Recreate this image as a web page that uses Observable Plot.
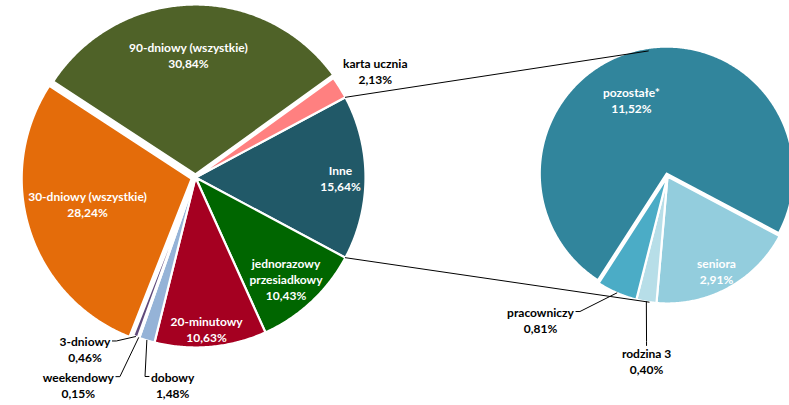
<!DOCTYPE html>
<html><head><meta charset="utf-8">
<script src="https://cdn.jsdelivr.net/npm/d3@7"></script>
<script src="https://cdn.jsdelivr.net/npm/@observablehq/plot@0.6"></script>
<style>body{margin:0;background:#fff}</style>
</head><body><div id="chart"></div>
<script>
// ---- data (main pie, clockwise starting with "Inne") ----
const mainCategories = ["Inne", "jednorazowy przesiadkowy", "20-minutowy", "dobowy", "weekendowy", "3-dniowy", "30-dniowy (wszystkie)", "90-dniowy (wszystkie)", "karta ucznia"];
const mainValues = [15.64, 10.43, 10.63, 1.48, 0.15, 0.46, 28.24, 30.84, 2.13];
const mainColors = ["#215968", "#006600", "#A50021", "#95B3D7", "#8E44C8", "#604A7B", "#E46C0A", "#4F6228", "#FF8080"];
const mainLabelNames = ["Inne", "jednorazowy\nprzesiadkowy", "20-minutowy", "dobowy", "weekendowy", "3-dniowy", "30-dniowy (wszystkie)", "90-dniowy (wszystkie)", "karta ucznia"];

// ---- data (secondary pie = breakdown of "Inne") ----
const subCategories = ["seniora", "rodzina 3", "pracowniczy", "pozostałe*"];
const subValues = [2.91, 0.40, 0.81, 11.52];
const subColors = ["#93CDDD", "#B7DEE8", "#4BACC6", "#31859C"];

// ---- layout ----
const W = 789, H = 405;
const mainPie = {cx: 195, cy: 177, r: 170};
const subPie = {cx: 667, cy: 176, r: 127, start: 118};
const explodeMain = {"90-dniowy (wszystkie)": 3, "30-dniowy (wszystkie)": 4};
const explodeSub = {"pozostałe*": 3};
// label placement: absolute angle (deg, clockwise from 12 o'clock), radius factor, colour
const mainLabelPos = {
  "Inne": [90, 0.853, "white"],
  "jednorazowy przesiadkowy": [138.3, 0.80, "white"],
  "20-minutowy": [175.8, 0.89, "white"],
  "dobowy": [186.3, 1.225, "black"],
  "weekendowy": [209.5, 1.40, "black"],
  "3-dniowy": [212.8, 1.20, "black"],
  "30-dniowy (wszystkie)": [256.2, 0.654, "white"],
  "90-dniowy (wszystkie)": [356.7, 0.725, "white"],
  "karta ucznia": [59.3, 1.23, "black"]
};
const subLabelPos = {
  "seniora": [152.5, 0.835, "white"],
  "rodzina 3": [186.5, 1.458, "black"],
  "pracowniczy": [221.6, 1.506, "black"],
  "pozostałe*": [334.9, 0.67, "white"]
};
const leaderSide = {"3-dniowy": "right", "weekendowy": "right", "dobowy": "left", "pracowniczy": "right", "rodzina 3": "top"};
const fontSize = 12, lineH = 16, fontFamily = "Lato";

const deg = Math.PI / 180;
const pt = (cx, cy, r, a) => [cx + r * Math.sin(a * deg), cy - r * Math.cos(a * deg)];
const fmt = v => v.toFixed(2).replace(".", ",") + "%";

function angles(values, start) {
  const total = d3.sum(values);
  let a = start;
  return values.map(v => { const s = a; a += v / total * 360; return [s, a]; });
}
function slicePoints(pie, a0, a1, explode) {
  const m = (a0 + a1) / 2;
  const [ox, oy] = pt(0, 0, explode || 0, m);
  const cx = pie.cx + ox, cy = pie.cy + oy;
  const pts = [[cx, cy]];
  const n = Math.max(2, Math.ceil((a1 - a0) / 0.5));
  for (let i = 0; i <= n; i++) pts.push(pt(cx, cy, pie.r, a0 + (a1 - a0) * i / n));
  pts.push([cx, cy]);
  return pts.map(([x, y]) => ({x, y}));
}

const ctx = document.createElement("canvas").getContext("2d");
ctx.font = `bold ${fontSize}px ${fontFamily}`;
const textW = s => d3.max(s.split("\n"), l => ctx.measureText(l).width);

const totalMain = d3.sum(mainValues);
const innePct = mainValues[0] / totalMain * 360;
const mainAngles = angles(mainValues, 90 - innePct / 2);
const subAngles = angles(subValues, subPie.start);

const marks = [];
const labels = [];
const leaders = [];

function addPie(pie, cats, vals, cols, angs, explode, labelPos, labelNames) {
  cats.forEach((c, i) => {
    const [a0, a1] = angs[i];
    marks.push(Plot.line(slicePoints(pie, a0, a1, explode[c]), {x: "x", y: "y", fill: cols[i], stroke: "white", strokeWidth: 2.2, curve: "linear"}));
    const [la, lr, lc] = labelPos[c];
    const [lx, ly] = pt(pie.cx, pie.cy, pie.r * lr, la);
    const text = labelNames[i] + "\n" + fmt(vals[i]);
    const nLines = text.split("\n").length;
    labels.push({x: lx, y: ly, text, color: lc});
    const side = leaderSide[c];
    if (side) {
      const w = textW(text);
      const m = (a0 + a1) / 2;
      const edge = pt(pie.cx, pie.cy, pie.r, m);
      const firstY = ly - (nLines - 1) * lineH / 2;
      let anchor, elbow;
      if (side === "right") { anchor = [lx + w / 2 + 2, firstY]; elbow = [anchor[0] + 4, firstY]; }
      else if (side === "left") { anchor = [lx - w / 2 - 2, firstY]; elbow = [anchor[0] - 4, firstY]; }
      else { anchor = [lx, firstY - 7]; elbow = [lx, firstY - 11]; }
      leaders.push([anchor, elbow, edge].map(([x, y]) => ({x, y, key: c})));
    }
  });
}
addPie(mainPie, mainCategories, mainValues, mainColors, mainAngles, explodeMain, mainLabelPos, mainLabelNames);
addPie(subPie, subCategories, subValues, subColors, subAngles, explodeSub, subLabelPos, subCategories);

// connector lines: from ends of the "Inne" arc, tangent to the secondary pie
function tangent(P, C, r, sign) {
  const dx = C[0] - P[0], dy = C[1] - P[1];
  const d = Math.hypot(dx, dy);
  const base = Math.atan2(dy, dx);
  const t = Math.asin(r / d);
  const ang = base + sign * t;
  const L = Math.sqrt(d * d - r * r);
  return [P[0] + L * Math.cos(ang), P[1] + L * Math.sin(ang)];
}
const [i0, i1] = mainAngles[0];
const pTop = pt(mainPie.cx, mainPie.cy, mainPie.r, i0);
const pBot = pt(mainPie.cx, mainPie.cy, mainPie.r, i1);
const C = [subPie.cx, subPie.cy];
const qTop = tangent(pTop, C, subPie.r, -1);
const qBot = tangent(pBot, C, subPie.r, 1);
const connectors = [[pTop, qTop], [pBot, qBot]].map((seg, k) => seg.map(([x, y]) => ({x, y, k})));

for (const c of connectors) marks.push(Plot.line(c, {x: "x", y: "y", stroke: "black", strokeWidth: 1, curve: "linear"}));
for (const l of leaders) marks.push(Plot.line(l, {x: "x", y: "y", stroke: "black", strokeWidth: 1, curve: "linear", strokeLinejoin: "miter"}));
marks.push(Plot.text(labels, {x: "x", y: "y", text: "text", fill: d => d.color, fontSize, fontWeight: "bold", fontFamily, lineHeight: lineH / fontSize}));

const chart = Plot.plot({
  width: W, height: H, margin: 0,
  x: {domain: [0, W], range: [0, W], axis: null},
  y: {domain: [0, H], range: [0, H], axis: null},
  color: {type: "identity"},
  style: {background: "white", overflow: "hidden"},
  marks
});
document.getElementById("chart").append(chart);
</script>
</body></html>
